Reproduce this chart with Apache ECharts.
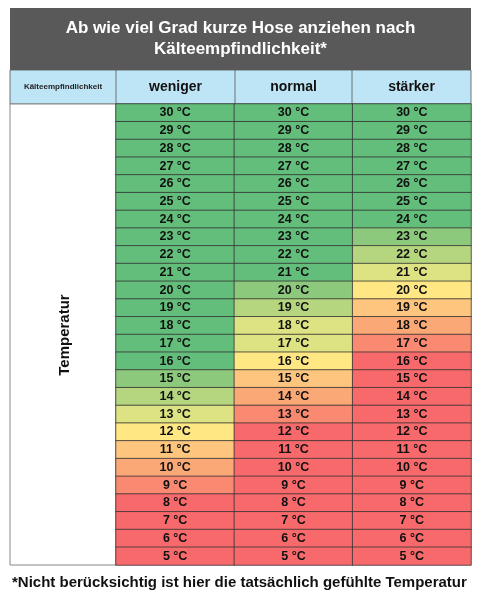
<!DOCTYPE html>
<html><head><meta charset="utf-8">
<script src="https://cdn.jsdelivr.net/npm/echarts@6/dist/echarts.min.js"></script>
<style>html,body{margin:0;padding:0;background:#fff}#c{width:481px;height:600px}</style>
</head><body><div id="c"></div>
<script>
const columns = ['weniger','normal','stärker'];
const temps = [30,29,28,27,26,25,24,23,22,21,20,19,18,17,16,15,14,13,12,11,10,9,8,7,6,5];
// sensitivity level per cell (0 = green ... 8 = red), same order as temps
const weniger = [0,0,0,0,0,0,0,0,0,0,0,0,0,0,0,1,2,3,4,5,6,7,8,8,8,8];
const normal  = [0,0,0,0,0,0,0,0,0,0,1,2,3,3,4,5,6,7,8,8,8,8,8,8,8,8];
const staerker= [0,0,0,0,0,0,0,1,2,3,4,5,6,7,8,8,8,8,8,8,8,8,8,8,8,8];
const levelColors = ['#63be7b','#8cc97c','#b5d67f','#dde282','#ffe884','#fdc57d','#fba877','#f98a71','#f8696b'];

const cols = [weniger, normal, staerker];
const data = [];
cols.forEach((c,ci)=>c.forEach((v,ti)=>data.push([ci, String(temps[ti]), v])));

const F = 'Liberation Sans, Arial, sans-serif';
const L=10, R=471, C1=116, TOP=104, BOT=565;
const chart = echarts.init(document.getElementById('c'));
chart.setOption({
  animation:false,
  grid:{left:C1, right:481-R, top:TOP, bottom:600-BOT},
  xAxis:{type:'category', data:columns, show:false},
  yAxis:{type:'category', data:temps.map(String), inverse:true, show:false},
  visualMap:{show:false, type:'piecewise', dimension:2,
    pieces:levelColors.map((c,i)=>({value:i, color:c}))},
  series:[{type:'heatmap', data:data,
    itemStyle:{borderColor:'#333', borderWidth:0.8},
    label:{show:true, formatter:p=>p.data[1]+' °C', fontFamily:F, fontWeight:'bold', fontSize:12.5, color:'#111'}}],
  graphic:[
    {type:'rect', shape:{x:L,y:8,width:R-L,height:62}, style:{fill:'#595959'}},
    {type:'text', x:240.5, y:39, style:{text:'Ab wie viel Grad kurze Hose anziehen nach\nKälteempfindlichkeit*', fill:'#fff', font:'bold 17px '+F, align:'center', verticalAlign:'middle', lineHeight:21}},
    {type:'rect', shape:{x:L,y:70,width:R-L,height:TOP-70}, style:{fill:'#bee5f5', stroke:'#555', lineWidth:0.8}},
    {type:'line', shape:{x1:C1,y1:70,x2:C1,y2:TOP}, style:{stroke:'#555', lineWidth:0.8}},
    {type:'line', shape:{x1:235,y1:70,x2:235,y2:TOP}, style:{stroke:'#555', lineWidth:0.8}},
    {type:'line', shape:{x1:352,y1:70,x2:352,y2:TOP}, style:{stroke:'#555', lineWidth:0.8}},
    {type:'text', x:(L+C1)/2, y:87, style:{text:'Kälteempfindlichkeit', fill:'#222', font:'bold 8px '+F, align:'center', verticalAlign:'middle'}},
    {type:'text', x:175.5, y:87, style:{text:'weniger', fill:'#111', font:'bold 14px '+F, align:'center', verticalAlign:'middle'}},
    {type:'text', x:293.5, y:87, style:{text:'normal', fill:'#111', font:'bold 14px '+F, align:'center', verticalAlign:'middle'}},
    {type:'text', x:411.5, y:87, style:{text:'stärker', fill:'#111', font:'bold 14px '+F, align:'center', verticalAlign:'middle'}},
    {type:'rect', shape:{x:L,y:TOP,width:C1-L,height:BOT-TOP}, style:{fill:'#fff', stroke:'#888', lineWidth:1}},
    {type:'text', x:65, y:335, rotation:Math.PI/2, style:{text:'Temperatur', fill:'#111', font:'bold 15px '+F, align:'center', verticalAlign:'middle'}},
    {type:'text', x:12, y:583, style:{text:'*Nicht berücksichtig ist hier die tatsächlich gefühlte Temperatur', fill:'#111', font:'bold 15px '+F, verticalAlign:'middle'}}
  ]
});
</script></body></html>
